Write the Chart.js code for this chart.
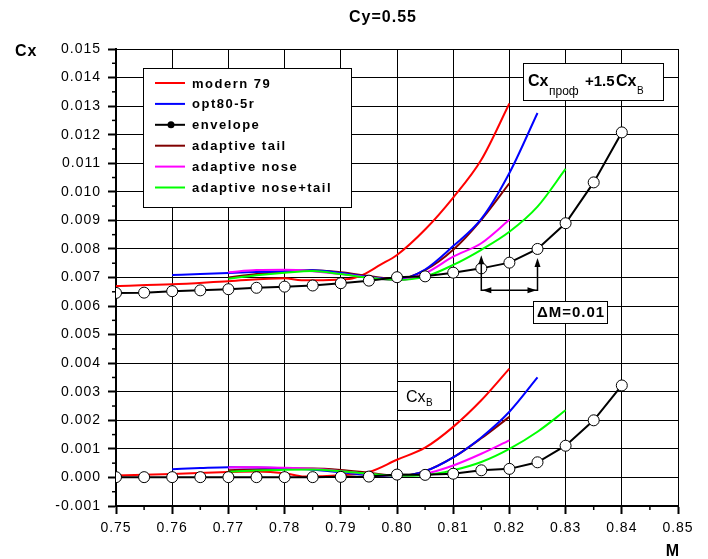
<!DOCTYPE html>
<html>
<head>
<meta charset="utf-8">
<script src="https://cdn.jsdelivr.net/npm/chart.js@4.4.1/dist/chart.umd.min.js"></script>
<style>
body { margin: 0; background: #fff; }
#wrap { position: relative; width: 708px; height: 559px; }
</style>
</head>
<body>
<div id="wrap"><canvas id="chart"></canvas></div>
<script>

// envelope (circles)
const envM   = [0.75, 0.755, 0.76, 0.765, 0.77, 0.775, 0.78, 0.785, 0.79, 0.795, 0.80, 0.805, 0.81, 0.815, 0.82, 0.825, 0.83, 0.835, 0.84];
const envUp  = [0.00646, 0.00647, 0.00652, 0.00655, 0.00659, 0.00664, 0.00668, 0.00672, 0.00680, 0.00689, 0.00701, 0.00704, 0.00717, 0.00732, 0.00752, 0.00800, 0.00890, 0.01033, 0.01208];
const envLow = [0.00001, 0.00001, 0.00001, 0.00001, 0.00001, 0.00001, 0.00001, 0.00001, 0.00002, 0.00003, 0.00010, 0.00009, 0.00013, 0.00025, 0.00030, 0.00053, 0.00111, 0.00200, 0.00322];

// modern 79
const m79UpM  = [0.75, 0.76, 0.77, 0.78, 0.783, 0.7915, 0.794, 0.797, 0.80, 0.805, 0.81, 0.815, 0.82];
const m79Up   = [0.00670, 0.00676, 0.00687, 0.00697, 0.00690, 0.00695, 0.00710, 0.00744, 0.00779, 0.00868, 0.00980, 0.01112, 0.01309];
const m79LowM = [0.75, 0.76, 0.77, 0.775, 0.78, 0.7835, 0.79, 0.795, 0.80, 0.805, 0.81, 0.815, 0.82];
const m79Low  = [0.00007, 0.00012, 0.00019, 0.00021, 0.00015, 0.00003, 0.00008, 0.00019, 0.00062, 0.00104, 0.00177, 0.00270, 0.00381];

// opt80-5r
const optM   = [0.76, 0.765, 0.77, 0.775, 0.78, 0.785, 0.79, 0.795, 0.80, 0.805, 0.81, 0.815, 0.82, 0.825];
const optUp  = [0.00709, 0.00712, 0.00716, 0.00719, 0.00722, 0.00725, 0.00716, 0.00702, 0.00692, 0.00728, 0.00810, 0.00905, 0.01066, 0.01276];
const optLow = [0.00029, 0.00033, 0.00036, 0.00035, 0.00032, 0.00027, 0.00018, 0.00008, 0.00004, 0.00022, 0.00070, 0.00140, 0.00230, 0.00350];

// adaptive tail
const tailM   = [0.77, 0.775, 0.78, 0.785, 0.79, 0.795, 0.80, 0.805, 0.81, 0.815, 0.82];
const tailUp  = [0.00700, 0.00712, 0.00720, 0.00725, 0.00718, 0.00705, 0.00694, 0.00726, 0.00797, 0.00902, 0.01030];
const tailLow = [0.00025, 0.00028, 0.00031, 0.00031, 0.00026, 0.00016, 0.00006, 0.00022, 0.00070, 0.00137, 0.00212];

// adaptive nose
const noseM   = [0.77, 0.775, 0.78, 0.785, 0.79, 0.795, 0.80, 0.805, 0.81, 0.815, 0.82];
const noseUp  = [0.00718, 0.00726, 0.00727, 0.00722, 0.00712, 0.00700, 0.00690, 0.00715, 0.00773, 0.00820, 0.00902];
const noseLow = [0.00035, 0.00036, 0.00034, 0.00030, 0.00022, 0.00012, 0.00005, 0.00013, 0.00042, 0.00083, 0.00130];

// adaptive nose+tail
const ntM   = [0.77, 0.775, 0.78, 0.785, 0.79, 0.795, 0.80, 0.805, 0.81, 0.815, 0.82, 0.825, 0.83];
const ntUp  = [0.00696, 0.00708, 0.00717, 0.00723, 0.00712, 0.00699, 0.00691, 0.00703, 0.00744, 0.00797, 0.00860, 0.00948, 0.01080];
const ntLow = [0.00020, 0.00024, 0.00027, 0.00028, 0.00022, 0.00013, 0.00006, 0.00008, 0.00025, 0.00054, 0.00100, 0.00160, 0.00235];

const legendNames  = ["modern 79", "opt80-5r", "envelope", "adaptive tail", "adaptive nose", "adaptive nose+tail"];
const legendColors = ["#ff0000", "#0000ff", "#000000", "#800000", "#ff00ff", "#00ff00"];

const FONT = "'Liberation Sans', Arial, sans-serif";

function pts(ms, ys){
    return ms.map((m, i) => ({ x: m, y: ys[i] }));
}

function curve(label, color, ms, ys, order){
    return {
        label: label,
        data: pts(ms, ys),
        borderColor: color,
        borderWidth: 2,
        pointRadius: 0,
        cubicInterpolationMode: "monotone",
        order: order
    };
}

function envelope(ys){
    return {
        label: "envelope",
        data: pts(envM, ys),
        borderColor: "#000",
        borderWidth: 2,
        tension: 0,
        pointRadius: 5.5,
        pointBackgroundColor: "#fff",
        pointBorderColor: "#000",
        pointBorderWidth: 1,
        order: 0
    };
}

function box(ctx, x, y, w, h){
    ctx.fillStyle = "#fff";
    ctx.fillRect(x, y, w, h);
    ctx.strokeStyle = "#000";
    ctx.lineWidth = 1;
    ctx.strokeRect(x + 0.5, y + 0.5, w, h);
}

function arrowUp(ctx, x, y){
    ctx.beginPath();
    ctx.moveTo(x, y);
    ctx.lineTo(x - 3, y + 9);
    ctx.lineTo(x + 3, y + 9);
    ctx.closePath();
    ctx.fill();
}

function arrowSide(ctx, x, y, dir){
    ctx.beginPath();
    ctx.moveTo(x, y);
    ctx.lineTo(x - dir * 9, y - 3);
    ctx.lineTo(x - dir * 9, y + 3);
    ctx.closePath();
    ctx.fill();
}

const decor = {
    id: "decor",
    beforeDraw(chart){
        // spaced-out tick labels like the original
        chart.ctx.letterSpacing = "1px";
    },
    afterDraw(chart){
        const ctx = chart.ctx;
        const xs = chart.scales.x;
        const ys = chart.scales.y;
        const a = chart.chartArea;

        ctx.save();
        ctx.letterSpacing = "0px";

        // minor ticks
        ctx.strokeStyle = "#000";
        ctx.lineWidth = 1.5;
        for(let i = 0; i < 16; i++){
            const py = ys.getPixelForValue(-0.0005 + i * 0.001);
            ctx.beginPath();
            ctx.moveTo(a.left - 4, py);
            ctx.lineTo(a.left, py);
            ctx.stroke();
        }
        for(let i = 0; i < 10; i++){
            const px = xs.getPixelForValue(0.755 + i * 0.01);
            ctx.beginPath();
            ctx.moveTo(px, a.bottom);
            ctx.lineTo(px, a.bottom + 4);
            ctx.stroke();
        }

        // titles
        ctx.fillStyle = "#000";
        ctx.textBaseline = "middle";
        ctx.textAlign = "center";
        ctx.letterSpacing = "1px";
        ctx.font = "bold 16px " + FONT;
        ctx.fillText("Cy=0.55", 383, 18);
        ctx.fillText("M", 673, 552);
        ctx.textAlign = "left";
        ctx.fillText("Cx", 15, 52);

        // legend
        box(ctx, 143, 68, 208, 139);
        ctx.font = "bold 13px " + FONT;
        ctx.letterSpacing = "1.5px";
        legendNames.forEach((name, i) => {
            const ly = 83 + i * 20.9;
            ctx.strokeStyle = legendColors[i];
            ctx.lineWidth = 2;
            ctx.beginPath();
            ctx.moveTo(155, ly);
            ctx.lineTo(185, ly);
            ctx.stroke();
            if(name === "envelope"){
                ctx.fillStyle = "#000";
                ctx.beginPath();
                ctx.arc(171, ly, 3.5, 0, Math.PI * 2);
                ctx.fill();
            }
            ctx.fillStyle = "#000";
            ctx.fillText(name, 192, ly + 1);
        });
        ctx.letterSpacing = "0px";

        // Cx_prof + 1.5 Cx_B
        box(ctx, 523, 63, 140, 37);
        ctx.fillStyle = "#000";
        ctx.textBaseline = "alphabetic";
        ctx.font = "bold 16px " + FONT;
        ctx.fillText("Cx", 528, 86);
        ctx.font = "12px " + FONT;
        ctx.fillText("проф", 549, 95);
        ctx.font = "bold 15px " + FONT;
        ctx.fillText("+1.5", 585, 86);
        ctx.font = "bold 16px " + FONT;
        ctx.fillText("Cx", 616, 86);
        ctx.font = "10px " + FONT;
        ctx.fillText("В", 637, 94);

        // Cx_B
        box(ctx, 397, 381, 53, 29);
        ctx.fillStyle = "#000";
        ctx.font = "16px " + FONT;
        ctx.fillText("Cx", 406, 402);
        ctx.font = "10px " + FONT;
        ctx.fillText("В", 426, 406);

        // delta M bracket
        const x1 = xs.getPixelForValue(0.815);
        const x2 = xs.getPixelForValue(0.825);
        const yb = ys.getPixelForValue(0.00655);
        const y1 = ys.getPixelForValue(0.00778);
        const y2 = ys.getPixelForValue(0.00768);
        ctx.strokeStyle = "#000";
        ctx.fillStyle = "#000";
        ctx.lineWidth = 1.5;
        ctx.beginPath();
        ctx.moveTo(x1, y1 + 6);
        ctx.lineTo(x1, yb);
        ctx.lineTo(x2, yb);
        ctx.lineTo(x2, y2 + 6);
        ctx.stroke();
        arrowUp(ctx, x1, y1);
        arrowUp(ctx, x2, y2);
        arrowSide(ctx, x1 + 1, yb, -1);
        arrowSide(ctx, x2 - 1, yb, 1);

        box(ctx, 533, 301, 74, 22);
        ctx.fillStyle = "#000";
        ctx.font = "bold 15px " + FONT;
        ctx.letterSpacing = "1px";
        ctx.textAlign = "center";
        ctx.textBaseline = "middle";
        ctx.fillText("\u0394M=0.01", 571, 313);

        ctx.restore();
        ctx.letterSpacing = "0px";
    }
};

Chart.defaults.font.family = FONT;

new Chart(document.getElementById("chart"), {
    type: "line",
    data: {
        datasets: [
            envelope(envUp),
            envelope(envLow),
            curve("adaptive nose+tail", "#00ff00", ntM, ntUp, 1),
            curve("adaptive nose+tail", "#00ff00", ntM, ntLow, 1),
            curve("adaptive nose", "#ff00ff", noseM, noseUp, 2),
            curve("adaptive nose", "#ff00ff", noseM, noseLow, 2),
            curve("opt80-5r", "#0000ff", optM, optUp, 3),
            curve("opt80-5r", "#0000ff", optM, optLow, 3),
            curve("adaptive tail", "#800000", tailM, tailUp, 4),
            curve("adaptive tail", "#800000", tailM, tailLow, 4),
            curve("modern 79", "#ff0000", m79UpM, m79Up, 5),
            curve("modern 79", "#ff0000", m79LowM, m79Low, 5)
        ]
    },
    options: {
        responsive: true,
        maintainAspectRatio: false,
        animation: false,
        layout: { padding: { top: 49, right: 30, left: 0, bottom: 0 } },
        plugins: {
            legend: { display: false },
            title: { display: false },
            tooltip: { enabled: false }
        },
        scales: {
            x: {
                type: "linear",
                min: 0.75,
                max: 0.85,
                ticks: {
                    stepSize: 0.01,
                    color: "#000",
                    font: { size: 14 },
                    maxRotation: 0,
                    padding: 6,
                    callback: v => v.toFixed(2)
                },
                grid: { color: "#000", lineWidth: 1, tickLength: 8, tickWidth: 2, tickColor: "#000" },
                border: { color: "#000", width: 2 },
                afterFit: s => { s.height = 53; }
            },
            y: {
                min: -0.001,
                max: 0.015,
                ticks: {
                    stepSize: 0.001,
                    color: "#000",
                    font: { size: 14 },
                    padding: 7,
                    callback: v => v.toFixed(3)
                },
                grid: { color: "#000", lineWidth: 1, tickLength: 8, tickWidth: 2, tickColor: "#000" },
                border: { color: "#000", width: 2 },
                afterFit: s => { s.width = 116; }
            }
        }
    },
    plugins: [decor]
});

</script>
</body>
</html>
